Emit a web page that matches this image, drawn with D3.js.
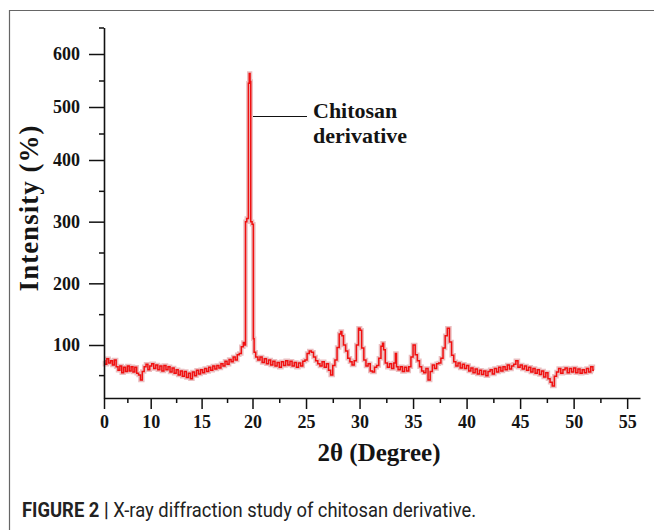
<!DOCTYPE html>
<html>
<head>
<meta charset="utf-8">
<script src="https://cdn.jsdelivr.net/npm/d3@7"></script>
<style>
  body { margin: 0; background: #fff; }
  svg { display: block; }
</style>
</head>
<body>
<div id="chart"></div>
<script>
// axis ticks as printed on the figure
var xTicks = [0, 10, 15, 20, 25, 30, 35, 40, 45, 50, 55];
var xMinor = [5, 12.5, 17.5, 22.5, 27.5, 32.5, 37.5, 42.5, 47.5, 52.5];
var yTicks = [100, 200, 300, 400, 500, 600];
var yMinor = [50, 150, 250, 350, 450, 550, 650];

// XRD scan, [2theta, intensity]
var scanLow = [[0,74],[0.4,68],[0.8,77],[1.2,70],[1.6,74],[2,67],[2.4,75],[2.8,64],[3.2,58],[3.6,65],
  [4,54],[4.4,63],[4.8,56],[5.2,65],[5.6,57],[6,64],[6.4,55],[6.8,63],[7.2,53],[7.6,50],[8,42],
  [8.4,56],[8.8,64],[9.2,68],[9.6,59]];
var scanRise = [[10,65],[10.2,69],[10.4,61],[10.6,67],[10.8,59],[11,65],[11.2,57],[11.4,66],[11.6,59],
  [11.8,64],[12,55],[12.2,62],[12.4,53],[12.6,59],[12.8,50],[13,57],[13.2,48],[13.4,56],[13.6,46],
  [13.8,53],[14,44],[14.2,55],[14.4,49],[14.6,58],[14.8,52],[15,59],[15.2,54],[15.4,61],[15.6,56],
  [15.8,63],[16,58],[16.2,65],[16.4,60],[16.6,66],[16.8,62],[17,69],[17.2,65],[17.4,73],[17.6,68],
  [17.8,76],[18,72],[18.2,80],[18.4,75],[18.6,84],[18.8,86],[19,97],[19.2,104]];
var mainPeak = [[19.3,100],[19.33,300],[19.55,305],[19.64,545],[19.72,563],[19.8,548],[19.86,300],
  [20.06,296],[20.1,110],[20.2,88]];
var scanMid = [[20.4,80],[20.6,75],[20.8,80],[21,71],[21.2,77],[21.4,69],[21.6,75],[21.8,67],[22,73],
  [22.2,65],[22.4,71],[22.6,63],[22.8,72],[23,66],[23.2,74],[23.4,67],[23.6,73],[23.8,65],[24,71],
  [24.2,63],[24.4,70],[24.6,65],[24.8,73],[25,75],[25.2,86],[25.4,90],[25.6,88],[25.8,80],[26,74],
  [26.2,69],[26.4,65],[26.6,72],[26.8,63],[27,69],[27.2,58],[27.4,50],[27.6,66],[27.8,75],[28,96],
  [28.2,118],[28.3,122],[28.4,115],[28.6,100],[28.8,90],[29,78],[29.2,72],[29.4,67],[29.6,74],
  [29.8,100],[30,127],[30.1,124],[30.3,95],[30.5,75],[30.7,65],[30.9,69],[31.1,57],[31.3,55],
  [31.5,63],[31.7,66],[31.9,78],[32.1,98],[32.2,103],[32.3,92],[32.5,70],[32.7,63],[32.9,69],
  [33.1,61],[33.3,70],[33.4,86],[33.5,64],[33.7,59],[33.9,64],[34.1,56],[34.3,63],[34.5,57],
  [34.7,64],[34.9,80],[35.1,100],[35.3,84],[35.5,74],[35.7,64],[35.9,57],[36.1,54],[36.3,61],
  [36.5,42],[36.7,56],[36.9,67],[37.1,61],[37.3,69],[37.5,70],[37.7,78],[37.9,95],[38.1,115],
  [38.3,127],[38.5,105],[38.7,83],[38.9,72]];
var scanTail = [[39.1,65],[39.3,70],[39.5,62],[39.7,68],[39.9,61],[40.1,66],[40.3,57],[40.5,62],
  [40.7,54],[40.9,60],[41.1,52],[41.3,58],[41.5,51],[41.7,57],[41.9,49],[42.1,56],[42.3,59],
  [42.5,52],[42.7,61],[42.9,55],[43.1,63],[43.3,57],[43.5,64],[43.7,59],[43.9,67],[44.1,60],
  [44.3,65],[44.5,68],[44.7,74],[44.9,63],[45.1,67],[45.3,60],[45.5,65],[45.7,58],[45.9,63],
  [46.1,55],[46.3,61],[46.5,53],[46.7,59],[46.9,51],[47.1,57],[47.3,47],[47.5,54],[47.7,44],
  [47.9,38],[48.1,32],[48.3,48],[48.5,55],[48.7,61],[48.9,53],[49.1,59],[49.3,62],[49.5,54],
  [49.7,61],[49.9,55],[50.1,62],[50.3,54],[50.5,60],[50.7,53],[50.9,59],[51.1,54],[51.3,61],
  [51.5,55],[51.7,64],[51.9,58]];

var scan = scanLow.concat(scanRise, mainPeak, scanMid, scanTail);

var W = 654, H = 530;
var svg = d3.select("#chart").append("svg")
    .attr("width", W)
    .attr("height", H);

// frame
svg.append("line").attr("x1", 9).attr("x2", W).attr("y1", 10.5).attr("y2", 10.5)
    .attr("stroke", "#666").attr("stroke-width", 1.2);
svg.append("line").attr("x1", 9.5).attr("x2", 9.5).attr("y1", 10).attr("y2", H)
    .attr("stroke", "#666").attr("stroke-width", 1.2);

// the printed axes are not evenly spaced, so piecewise scales
var x = d3.scaleLinear()
    .domain([0, 10, 20, 56.2])
    .range([104, 150.7, 252.5, 640]);
var y = d3.scaleLinear()
    .domain([12, 100, 400, 650])
    .range([398, 345, 160, 27.5]);

var serif = "'Liberation Serif', 'Times New Roman', serif";

// trace: soft underlay + red line, stepped like the digitised scan
var line = d3.line()
    .curve(d3.curveStep)
    .x(function(d) { return x(d[0]); })
    .y(function(d) { return y(d[1]); });

svg.append("path")
    .datum(scan)
    .attr("fill", "none")
    .attr("stroke", "rgba(205,95,100,0.4)")
    .attr("stroke-width", 4.5)
    .attr("d", line);
svg.append("path")
    .datum(scan)
    .attr("fill", "none")
    .attr("stroke", "#f01010")
    .attr("stroke-width", 1.5)
    .attr("d", line);

// y axis
svg.append("g")
    .attr("transform", "translate(104,0)")
    .call(d3.axisLeft(y).tickValues(yTicks).tickSize(15).tickPadding(9).tickSizeOuter(0));
svg.append("g")
    .attr("transform", "translate(104,0)")
    .call(d3.axisLeft(y).tickValues(yMinor).tickSize(5).tickFormat("").tickSizeOuter(0))
    .select(".domain").remove();

// x axis
svg.append("g")
    .attr("transform", "translate(0,398)")
    .call(d3.axisBottom(x).tickValues(xTicks).tickSize(11).tickPadding(6).tickSizeOuter(0));
svg.append("g")
    .attr("transform", "translate(0,398)")
    .call(d3.axisBottom(x).tickValues(xMinor).tickSize(5).tickFormat("").tickSizeOuter(0))
    .select(".domain").remove();

svg.selectAll(".domain").attr("stroke", "#111").attr("stroke-width", 1.6);
svg.selectAll(".tick line").attr("stroke", "#111").attr("stroke-width", 1.5);
svg.selectAll(".tick text")
    .attr("fill", "#141414")
    .style("font-family", serif)
    .style("font-weight", "bold")
    .style("font-size", "18px");

// axis titles
svg.append("text")
    .attr("transform", "translate(38,208) rotate(-90)")
    .attr("text-anchor", "middle")
    .style("font-family", serif)
    .style("font-weight", "bold")
    .style("font-size", "27px")
    .style("letter-spacing", "1px")
    .attr("fill", "#141414")
    .text("Intensity (%)");

svg.append("text")
    .attr("x", 379)
    .attr("y", 461)
    .attr("text-anchor", "middle")
    .style("font-family", serif)
    .style("font-weight", "bold")
    .style("font-size", "25px")
    .attr("fill", "#141414")
    .text("2θ (Degree)");

// series label with leader
svg.append("line")
    .attr("x1", 253).attr("x2", 307)
    .attr("y1", 116.5).attr("y2", 116.5)
    .attr("stroke", "#111").attr("stroke-width", 1.2);
var lab = svg.append("text")
    .style("font-family", serif)
    .style("font-weight", "bold")
    .style("font-size", "22px")
    .attr("fill", "#141414");
lab.append("tspan").attr("x", 313).attr("y", 118).text("Chitosan");
lab.append("tspan").attr("x", 313).attr("y", 143).text("derivative");

// caption (condensed face)
var cap = svg.append("text")
    .attr("transform", "translate(22,517) scale(0.92,1)")
    .style("font-family", "'Roboto', 'Liberation Sans', sans-serif")
    .style("font-size", "20px")
    .attr("fill", "#222");
cap.append("tspan").style("font-weight", "bold").text("FIGURE 2 | ");
cap.append("tspan").text("X-ray diffraction study of chitosan derivative.");
</script>
</body>
</html>
